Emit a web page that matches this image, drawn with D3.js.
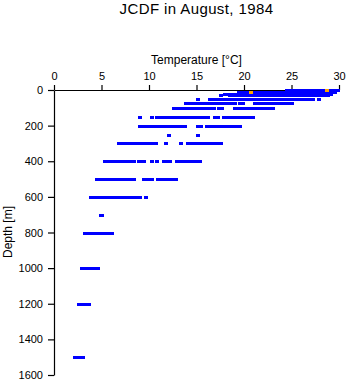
<!DOCTYPE html>
<html>
<head>
<meta charset="utf-8">
<script src="https://cdn.jsdelivr.net/npm/d3@7"></script>
<style>
  html, body { margin: 0; padding: 0; background: #fff; }
  svg { display: block; font-family: "Liberation Sans", Arial, Helvetica, sans-serif; }
</style>
</head>
<body>
<svg id="chart" width="348" height="384"></svg>
<script>
// Standard observation depths (m)
const depths = [0, 10, 20, 30, 50, 75, 100, 150, 200, 250, 300, 400, 500, 600, 700, 800, 1000, 1200, 1500];

// Observed temperatures (°C) at each depth, one list per depth
const temp0 = [24.5, 24.8, 25.1, 25.3, 25.6, 25.9, 26.2, 26.4, 26.7, 27.0, 27.3, 27.5, 27.8, 28.1, 28.4, 28.6, 28.9, 29.2, 29.5, 29.7, 29.9];
const temp10 = [19.5, 19.8, 20.1, 20.3, 20.6, 20.9, 21.2, 21.4, 21.7, 22.0, 22.3, 22.5, 22.8, 23.1, 23.4, 23.6, 23.9, 24.2, 24.5, 24.7, 25.0, 25.3, 25.6, 25.8, 26.1, 26.4, 26.7, 26.9, 27.2, 27.5, 27.8, 28.0, 28.3, 28.6, 28.9, 29.1, 29.4, 29.6];
const temp20 = [18.0, 18.3, 18.6, 18.8, 19.1, 19.4, 19.7, 19.9, 20.2, 20.5, 20.8, 21.0, 21.3, 21.6, 21.9, 22.1, 22.4, 22.7, 23.0, 23.2, 23.5, 23.8, 24.1, 24.3, 24.6, 24.9, 25.2, 25.4, 25.7, 26.0, 26.3, 26.5, 26.8, 27.1, 27.4, 27.6, 27.9, 28.2, 28.5, 28.7, 29.0, 29.2];
const temp30 = [17.6, 18.5, 18.8, 19.0, 19.3, 19.6, 19.9, 20.1, 20.4, 20.7, 21.0, 21.2, 21.5, 21.8, 22.1, 22.3, 22.6, 22.9, 23.2, 23.4, 23.7, 24.0, 24.3, 24.5, 24.8, 25.1, 25.4, 25.6, 25.9, 26.2, 26.5, 26.7, 27.0, 27.3, 27.6, 27.8, 28.1, 28.4, 28.8];
const temp50 = [15.2, 16.4, 16.7, 16.9, 17.2, 17.5, 17.8, 18.0, 18.3, 18.6, 18.9, 19.1, 19.4, 19.7, 20.0, 20.2, 20.5, 20.8, 21.1, 21.3, 21.6, 21.9, 22.2, 22.4, 22.7, 23.0, 23.3, 23.5, 23.8, 24.1, 24.4, 24.6, 24.9, 25.2, 25.5, 25.7, 26.0, 26.3, 26.6, 26.9, 27.3, 27.9];
const temp75 = [13.9, 14.2, 14.5, 14.7, 15.0, 15.3, 15.6, 15.8, 16.1, 16.4, 16.7, 16.9, 17.2, 17.5, 17.8, 18.0, 18.3, 18.5, 18.8, 19.1, 19.6, 19.9, 21.2, 21.5, 21.7, 22.0, 22.3, 22.6, 22.8, 23.1, 23.4, 23.7, 23.9, 24.2, 24.5, 24.8, 25.0];
const temp100 = [12.6, 12.9, 13.2, 13.4, 13.7, 14.0, 14.3, 14.5, 14.8, 15.1, 15.4, 15.6, 15.9, 16.2, 16.5, 16.8, 17.4, 17.7, 19.1, 19.4, 19.7, 19.9, 20.2, 20.5, 20.8, 21.0, 21.3, 21.6, 21.9, 22.1, 22.4, 22.7, 23.0];
const temp150 = [9.1, 10.3, 10.8, 11.1, 11.4, 11.6, 11.9, 12.2, 12.5, 12.7, 13.0, 13.3, 13.6, 13.8, 14.1, 14.4, 14.7, 15.1, 15.3, 15.6, 16.0, 16.2, 16.9, 17.3, 17.9, 18.2, 18.5, 18.8, 19.2, 19.5, 19.8, 20.0, 20.3, 20.6, 20.9];
const temp200 = [9.0, 9.3, 9.5, 9.8, 10.1, 10.4, 10.6, 10.9, 11.2, 11.5, 11.7, 12.0, 12.3, 12.6, 12.8, 13.1, 13.5, 13.8, 15.2, 15.5, 16.1, 16.4, 16.8, 17.1, 17.4, 17.7, 18.0, 18.3, 18.5, 18.8, 19.1, 19.4, 19.6];
const temp250 = [12.1, 15.2];
const temp300 = [6.8, 7.1, 7.4, 7.6, 7.9, 8.2, 8.5, 8.7, 9.0, 9.3, 9.6, 9.8, 10.1, 10.4, 10.7, 11.8, 13.4, 14.1, 14.3, 14.6, 14.9, 15.3, 15.6, 15.9, 16.1, 16.4, 16.7, 17.0, 17.3, 17.6];
const temp400 = [5.4, 5.7, 6.0, 6.2, 6.5, 6.8, 7.1, 7.3, 7.6, 7.9, 8.2, 8.4, 8.9, 9.2, 9.5, 10.3, 10.8, 11.6, 11.9, 12.2, 12.9, 13.2, 13.5, 13.7, 14.0, 14.3, 14.6, 14.8, 15.1, 15.4];
const temp500 = [4.5, 4.8, 5.1, 5.3, 5.6, 5.9, 6.2, 6.4, 6.7, 6.9, 7.4, 7.7, 8.0, 8.4, 9.5, 9.8, 10.1, 10.3, 10.9, 11.2, 11.5, 11.7, 12.0, 12.3, 12.6, 12.8];
const temp600 = [3.9, 4.2, 4.5, 4.7, 5.0, 5.3, 5.6, 5.8, 6.1, 6.4, 6.7, 6.9, 7.2, 7.4, 7.7, 8.0, 8.3, 8.5, 8.8, 9.1, 9.65];
const temp700 = [4.95, 5.05];
const temp800 = [3.3, 3.6, 3.9, 4.1, 4.4, 4.7, 5.0, 5.2, 5.5, 5.7, 6.0, 6.1];
const temp1000 = [2.9, 3.2, 3.4, 3.7, 4.0, 4.3, 4.6];
const temp1200 = [2.6, 2.9, 3.1, 3.4, 3.7];
const temp1500 = [2.25, 2.5, 2.75, 3.0];

const tempsByDepth = [temp0, temp10, temp20, temp30, temp50, temp75, temp100, temp150, temp200, temp250,
  temp300, temp400, temp500, temp600, temp700, temp800, temp1000, temp1200, temp1500];

// Highlighted (orange) observations
const highlightTemps = [20.7, 28.7];
const highlightDepths = [10, 0];

// Axis ticks
const tempTicks = [0, 5, 10, 15, 20, 25, 30];
const depthTicks = [0, 200, 400, 600, 800, 1000, 1200, 1400, 1600];

const titleText = "JCDF in August, 1984";
const xLabel = "Temperature [°C]";
const yLabel = "Depth [m]";

// ---- drawing ----
const svg = d3.select("#chart");
const x = d3.scaleLinear().domain([0, 30]).range([54, 339]);
const y = d3.scaleLinear().domain([0, 1600]).range([90, 375]);

// Top temperature axis
const xAxis = svg.append("g")
  .attr("transform", "translate(0,90)")
  .call(d3.axisTop(x).tickValues(tempTicks).tickFormat(d3.format("d"))
    .tickSize(5).tickSizeOuter(0).tickPadding(5));

// Left depth axis
const yAxis = svg.append("g")
  .attr("transform", "translate(54,0)")
  .call(d3.axisLeft(y).tickValues(depthTicks).tickFormat(d3.format("d"))
    .tickSize(6).tickSizeOuter(0).tickPadding(5));

[xAxis, yAxis].forEach(g => {
  g.selectAll("path.domain").attr("stroke", "#000").attr("stroke-width", 1.2);
  g.selectAll(".tick line").attr("stroke", "#000").attr("stroke-width", 1.2);
  g.selectAll(".tick text")
    .attr("fill", "#000")
    .style("font-family", "'Liberation Sans', Arial, sans-serif")
    .style("font-size", "11px");
});

// Observations, drawn over the axes
const points = [];
depths.forEach((d, i) => tempsByDepth[i].forEach(t => points.push({ t, d })));
const highlights = highlightTemps.map((t, i) => ({ t, d: highlightDepths[i] }));

// small block marker, aligned to the pixel grid
const marker = "M-2,-1h4v3h-4z";
const at = p => `translate(${Math.round(x(p.t))},${Math.round(y(p.d))})`;

svg.append("g")
  .attr("shape-rendering", "crispEdges")
  .selectAll("path")
  .data(points)
  .join("path")
  .attr("d", marker)
  .attr("transform", at)
  .attr("fill", "#0000ff");

svg.append("g")
  .attr("shape-rendering", "crispEdges")
  .selectAll("path")
  .data(highlights)
  .join("path")
  .attr("d", marker)
  .attr("transform", at)
  .attr("fill", "#ffa500");

// Titles
svg.append("text")
  .attr("x", 196.5).attr("y", 14)
  .attr("text-anchor", "middle")
  .style("font-size", "15px")
  .style("letter-spacing", "0.4px")
  .attr("fill", "#000")
  .text(titleText);

svg.append("text")
  .attr("x", 196.5).attr("y", 64)
  .attr("text-anchor", "middle")
  .style("font-size", "12px")
  .attr("fill", "#000")
  .text(xLabel);

svg.append("text")
  .attr("transform", "translate(12,232) rotate(-90)")
  .attr("text-anchor", "middle")
  .style("font-size", "12px")
  .attr("fill", "#000")
  .text(yLabel);
</script>
</body>
</html>
